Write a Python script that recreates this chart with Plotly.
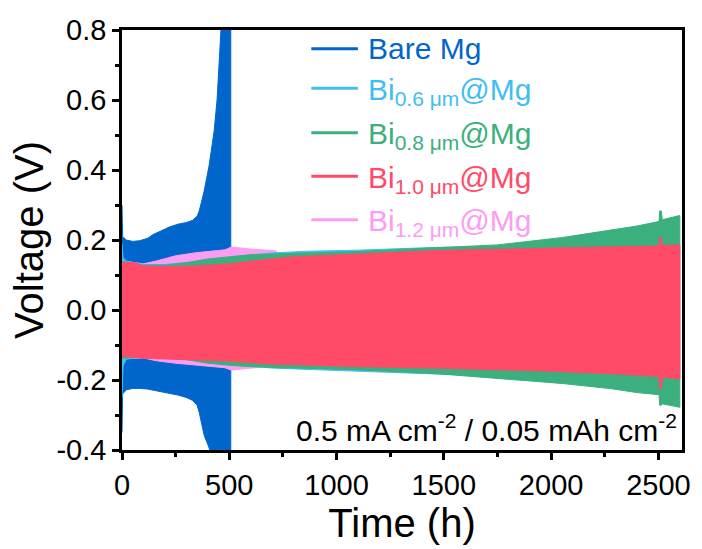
import plotly.graph_objects as go

# ---------------- data ----------------
bare_t = [0, 3, 20, 50, 83, 120, 143, 180, 221, 260, 300, 328, 350, 360, 383, 406, 429, 443, 461, 480, 507]
bare_up = [0.30, 0.21, 0.200, 0.196, 0.198, 0.205, 0.215, 0.226, 0.237, 0.245, 0.250, 0.256, 0.268, 0.283, 0.34, 0.413, 0.509, 0.60, 0.79, 1.0, 1.3]
bare_lo = [-0.35, -0.24, -0.228, -0.224, -0.224, -0.226, -0.228, -0.233, -0.238, -0.243, -0.250, -0.258, -0.272, -0.293, -0.358, -0.394, -0.45, -0.50, -0.60, -0.70, -0.80]

b06_t = [0, 5, 20, 100, 200, 300, 400, 500, 600, 700, 867, 1098, 1467, 1757]
b06_up = [0.19, 0.15, 0.14, 0.130, 0.130, 0.135, 0.142, 0.150, 0.158, 0.163, 0.168, 0.171, 0.179, 0.181]
b06_lo = [-0.25, -0.16, -0.14, -0.135, -0.135, -0.140, -0.147, -0.153, -0.160, -0.166, -0.170, -0.174, -0.183, -0.188]

b08_t = [0, 100, 200, 300, 400, 500, 600, 700, 900, 1100, 1467, 1750, 2052, 2283, 2400, 2503, 2506, 2514, 2518, 2600]
b08_up = [0.138, 0.128, 0.128, 0.135, 0.146, 0.153, 0.158, 0.160, 0.164, 0.167, 0.178, 0.186, 0.207, 0.228, 0.240, 0.253, 0.283, 0.283, 0.258, 0.270]
b08_lo = [-0.138, -0.134, -0.136, -0.142, -0.152, -0.158, -0.162, -0.163, -0.168, -0.171, -0.182, -0.195, -0.210, -0.225, -0.236, -0.242, -0.272, -0.272, -0.268, -0.278]

b10_t = [0, 60, 100, 200, 350, 500, 683, 800, 1098, 1467, 2000, 2300, 2503, 2506, 2514, 2518, 2600]
b10_up = [0.137, 0.135, 0.126, 0.124, 0.126, 0.132, 0.145, 0.152, 0.160, 0.170, 0.177, 0.180, 0.183, 0.207, 0.207, 0.184, 0.186]
b10_lo = [-0.132, -0.135, -0.138, -0.140, -0.142, -0.146, -0.154, -0.157, -0.162, -0.166, -0.175, -0.183, -0.190, -0.225, -0.225, -0.192, -0.197]

b12_t = [0, 100, 160, 250, 350, 480, 510, 600, 700, 720]
b12_up = [0.14, 0.132, 0.140, 0.155, 0.164, 0.172, 0.180, 0.174, 0.170, 0.168]
b12_lo = [-0.14, -0.137, -0.145, -0.152, -0.158, -0.165, -0.172, -0.166, -0.162, -0.160]

names = ["Bare Mg",
         "Bi<sub>0.6 μm</sub>@Mg",
         "Bi<sub>0.8 μm</sub>@Mg",
         "Bi<sub>1.0 μm</sub>@Mg",
         "Bi<sub>1.2 μm</sub>@Mg"]
colors = ["#0066CC", "#41BEF0", "#3CAF7E", "#FF4A68", "#FC9CF2"]

x_tickvals = [0, 500, 1000, 1500, 2000, 2500]
x_ticktext = ["0", "500", "1000", "1500", "2000", "2500"]
y_tickvals = [-0.4, -0.2, 0.0, 0.2, 0.4, 0.6, 0.8]
y_ticktext = ["-0.4", "-0.2", "0.0", "0.2", "0.4", "0.6", "0.8"]

series = {
    0: (bare_t, bare_up, bare_lo),
    1: (b06_t, b06_up, b06_lo),
    2: (b08_t, b08_up, b08_lo),
    3: (b10_t, b10_up, b10_lo),
    4: (b12_t, b12_up, b12_lo),
}
draw_order = [0, 4, 1, 2, 3]

FONT = "Liberation Sans, Arial, sans-serif"

fig = go.Figure()
for i in draw_order:
    t, up, lo = series[i]
    fig.add_trace(go.Scatter(
        x=list(t) + list(t)[::-1],
        y=list(up) + list(lo)[::-1],
        mode="lines", fill="toself",
        fillcolor=colors[i],
        line=dict(color=colors[i], width=1),
        name=names[i], showlegend=False, hoverinfo="skip"))

# ---------------- manual legend ----------------
L, R, T, B = 122, 687, 30, 455
W, H = R - L, B - T
def px(x):
    return (x - L) / W
def py(y):
    return (B - y) / H

leg_y = [49, 89, 134, 178, 222]
for i in range(5):
    fig.add_shape(type="line", xref="paper", yref="paper",
                  x0=px(313), x1=px(360), y0=py(leg_y[i]), y1=py(leg_y[i]),
                  line=dict(color=colors[i], width=3))
    fig.add_annotation(xref="paper", yref="paper", x=px(368), y=py(leg_y[i] + (0 if i == 0 else 3)),
                       xanchor="left", yanchor="middle", showarrow=False,
                       text=names[i], font=dict(family=FONT, size=30, color=colors[i]))

fig.add_annotation(xref="paper", yref="paper", x=px(684), y=py(433),
                   xanchor="right", yanchor="middle", showarrow=False,
                   text="0.5 mA cm<sup>-2</sup> / 0.05 mAh cm<sup>-2</sup>",
                   font=dict(family=FONT, size=30, color="black"))

axis_common = dict(showline=True, linecolor="black", linewidth=2.5, mirror=True,
                   ticks="outside", ticklen=7, tickwidth=2.5, tickcolor="black",
                   showgrid=False, zeroline=False,
                   tickfont=dict(family=FONT, size=29, color="black"))

fig.update_xaxes(range=[0, 2610], tickmode="array", tickvals=x_tickvals, ticktext=x_ticktext,
                 minor=dict(tickvals=[250, 750, 1250, 1750, 2250], ticks="outside",
                            ticklen=4, tickwidth=2.5, tickcolor="black"),
                 title=dict(text="Time (h)", font=dict(family=FONT, size=40, color="black"), standoff=8),
                 **axis_common)
fig.update_yaxes(range=[-0.4, 0.8], tickmode="array", tickvals=y_tickvals, ticktext=y_ticktext,
                 minor=dict(tickvals=[-0.3, -0.1, 0.1, 0.3, 0.5, 0.7], ticks="outside",
                            ticklen=4, tickwidth=2.5, tickcolor="black"),
                 title=dict(text="Voltage (V)", font=dict(family=FONT, size=40, color="black"), standoff=1),
                 **axis_common)

fig.update_layout(width=702, height=549,
                  margin=dict(l=L, r=702 - R, t=T, b=549 - B),
                  plot_bgcolor="white", paper_bgcolor="white",
                  showlegend=False)

fig.write_html("out.html")
